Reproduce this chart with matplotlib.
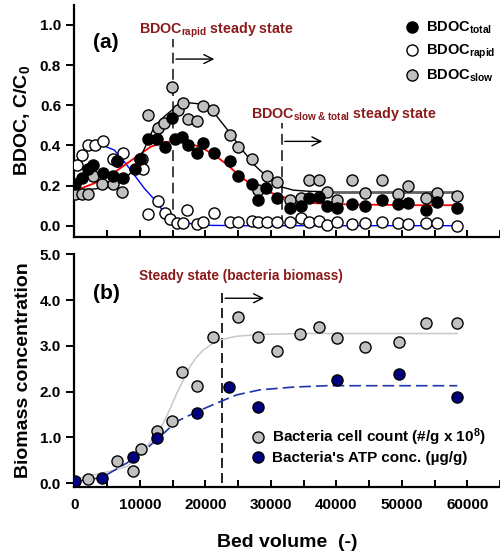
import matplotlib
matplotlib.use("Agg")
import matplotlib.pyplot as plt
from matplotlib.lines import Line2D
from matplotlib.mathtext import MathTextParser
from matplotlib.font_manager import FontProperties

plt.rcParams["font.family"] = ["Liberation Sans", "DejaVu Sans"]
plt.rcParams["font.weight"] = "bold"
plt.rcParams["mathtext.fontset"] = "custom"
plt.rcParams["mathtext.rm"] = "Liberation Sans:bold"
plt.rcParams["mathtext.bf"] = "Liberation Sans:bold"
plt.rcParams["mathtext.it"] = "Liberation Sans:bold"
plt.rcParams["mathtext.default"] = "rm"

# ---- (a) BDOC data ------------------------------------------------------ #
bv_total = [100, 1120, 2140, 2900, 4330, 5850, 6460, 7380, 9260, 10020,
            11300, 12670, 13840, 14860, 15370, 16390, 17410, 18680, 19600,
            21330, 23770, 25040, 27080, 28100, 29270, 31000, 32930, 34560,
            35880, 37410, 38530, 40060, 42350, 44380, 46930, 49470, 51000,
            53700, 55430, 58480]
bdoc_total = [0.21, 0.24, 0.28, 0.30, 0.26, 0.25, 0.32, 0.24, 0.28, 0.33,
              0.43, 0.43, 0.39, 0.535, 0.43, 0.44, 0.40, 0.36, 0.41,
              0.36, 0.32, 0.25, 0.21, 0.13, 0.19, 0.14, 0.09, 0.10,
              0.14, 0.145, 0.10, 0.09, 0.11, 0.10, 0.13, 0.11, 0.115,
              0.08, 0.12, 0.09]

bv_slow = [100, 1120, 2140, 2900, 4180, 5860, 7230, 10290, 11300, 12830,
           13740, 14870, 15880, 16550, 17400, 18690, 19600, 21220, 23770,
           25040, 27080, 28100, 29470, 31000, 32930, 34560, 35880, 37410,
           38530, 40160, 42350, 44380, 46930, 49470, 51000, 53700, 55430,
           58480]
bdoc_slow = [0.16, 0.16, 0.16, 0.25, 0.21, 0.21, 0.17, 0.33, 0.55, 0.485,
             0.51, 0.69, 0.575, 0.61, 0.53, 0.52, 0.596, 0.577, 0.45,
             0.39, 0.33, 0.18, 0.25, 0.22, 0.13, 0.14, 0.23, 0.23,
             0.17, 0.13, 0.23, 0.165, 0.23, 0.16, 0.20, 0.14, 0.165,
             0.15]

bv_rapid = [370, 1130, 2140, 3160, 4330, 5960, 6460, 7390, 10030, 10440,
            11300, 12830, 13850, 14610, 15730, 16640, 17250, 18690, 19600,
            21330, 23770, 25040, 27080, 28100, 29470, 31000, 32930, 34560,
            35880, 37410, 38530, 40060, 42350, 44380, 46930, 49470, 51000,
            53700, 55430, 58480]
bdoc_rapid = [0.30, 0.35, 0.40, 0.40, 0.42, 0.33, 0.32, 0.36, 0.33, 0.28,
              0.058, 0.125, 0.062, 0.032, 0.012, 0.015, 0.08, 0.008, 0.02,
              0.062, 0.02, 0.02, 0.023, 0.017, 0.02, 0.02, 0.02, 0.04,
              0.017, 0.025, 0.003, 0.02, 0.01, 0.015, 0.02, 0.015, 0.01,
              0.015, 0.015, 0.0]

# fitted curves
fit_rapid_x = [370, 1530, 3050, 4580, 6100, 7630, 9160, 10690, 12220,
               13400, 14610, 16640, 19700, 25000, 40000, 58480]
fit_rapid_y = [0.32, 0.377, 0.397, 0.397, 0.377, 0.319, 0.253, 0.186,
               0.131, 0.08, 0.045, 0.015, 0.002, 0.0, 0.0, 0.0]

fit_total_x = [370, 3050, 6100, 9160, 11700, 13740, 15270, 17300, 19340,
               21380, 23410, 25450, 27490, 29520, 31660, 34200, 36750,
               41830, 52000, 58480]
fit_total_y = [0.178, 0.211, 0.265, 0.336, 0.394, 0.415, 0.422, 0.413,
               0.39, 0.353, 0.302, 0.241, 0.198, 0.17, 0.145, 0.123,
               0.112, 0.106, 0.102, 0.102]

fit_slow_x = [100, 3050, 6100, 8000, 9500, 10800, 12200, 13700, 15250,
              17300, 19300, 21400, 23400, 25450, 27500, 29500, 31410,
              33440, 35990, 38000]
fit_slow_y = [0.178, 0.183, 0.194, 0.24, 0.30, 0.39, 0.493, 0.543, 0.585,
              0.613, 0.606, 0.56, 0.477, 0.386, 0.302, 0.241, 0.195,
              0.177, 0.171, 0.17]
fit_slow_flat_x = [38000, 58480]
fit_slow_flat_y = [0.17, 0.17]

# ---- (b) biomass data --------------------------------------------------- #
bv_cells = [2140, 6470, 8910, 10130, 12680, 14870, 16500, 18690, 21230,
            25040, 28000, 30900, 34460, 37410, 40160, 44390, 49630, 53700,
            58480]
cells = [0.09, 0.49, 0.26, 0.75, 1.15, 1.36, 2.44, 2.13, 3.20, 3.62, 3.20,
         2.89, 3.26, 3.41, 3.18, 2.98, 3.09, 3.49, 3.49]

bv_atp = [100, 4280, 8910, 12680, 18690, 23620, 28000, 40160, 49630, 58480]
atp = [0.05, 0.12, 0.57, 0.99, 1.53, 2.11, 1.67, 2.25, 2.39, 1.89]

fit_cells_x = [0, 2900, 6000, 8000, 9500, 11050, 12300, 13590, 14600,
               15640, 16700, 17670, 18700, 19700, 21000, 22250, 24800,
               28360, 35000, 58480]
fit_cells_y = [0.09, 0.18, 0.28, 0.36, 0.55, 0.80, 1.03, 1.31, 1.62, 1.96,
               2.27, 2.55, 2.76, 2.91, 3.04, 3.13, 3.21, 3.25, 3.27, 3.27]

fit_atp_x = [100, 4280, 8000, 11050, 13090, 15640, 18690, 21740, 24800,
             28360, 33440, 38540, 48710, 58480]
fit_atp_y = [0.03, 0.13, 0.44, 0.76, 1.02, 1.35, 1.56, 1.75, 1.93, 2.04,
             2.10, 2.13, 2.13, 2.13]

DARK_RED = "#8b1a1a"
GREY = "#c0c0c0"
NAVY = "#000080"


def first_parsable(candidates):
    # mathtext support for '&' varies; use the first form that parses
    parser = MathTextParser("agg")
    prop = FontProperties(size=11, weight="bold")
    for c in candidates:
        try:
            parser.parse(c, dpi=100, prop=prop)
            return c
        except Exception:
            continue
    return candidates[-1]


def style_axes(ax, ylim, yticks):
    ax.set_xlim(0, 65000)
    ax.set_ylim(*ylim)
    ax.set_yticks(yticks)
    ax.set_yticklabels([f"{v:.1f}" for v in yticks])
    ax.spines["top"].set_visible(False)
    ax.spines["right"].set_visible(False)
    for s in ("left", "bottom"):
        ax.spines[s].set_linewidth(1.6)
    ax.tick_params(axis="y", direction="out", length=6, width=1.4,
                   labelsize=11)
    ax.tick_params(axis="x", which="both", direction="in", length=5,
                   width=1.4, labelsize=11)


fig = plt.figure(figsize=(5.0, 5.54), dpi=100)
ax1 = fig.add_axes([0.1486, 0.5727, 0.8514, 0.4185])
ax2 = fig.add_axes([0.1486, 0.1215, 0.8514, 0.4195])

# ---- panel (a) ---------------------------------------------------------- #
style_axes(ax1, (-0.055, 1.10), [0.0, 0.2, 0.4, 0.6, 0.8, 1.0])
ax1.set_xticks(range(0, 65001, 5000))
ax1.set_xticklabels([])

ax1.plot(fit_rapid_x, fit_rapid_y, color="#0000ff", lw=1.0, zorder=2)
ax1.plot(fit_total_x, fit_total_y, color="#ff0000", lw=1.3, zorder=2)
ax1.plot(fit_slow_x, fit_slow_y, color="black", lw=1.0, zorder=2)
ax1.plot(fit_slow_flat_x, fit_slow_flat_y, color="#606060", lw=2.0, zorder=2)

mk = dict(linestyle="none", marker="o", markersize=8, markeredgecolor="black",
          markeredgewidth=1.0, zorder=3)
ax1.plot(bv_slow, bdoc_slow, markerfacecolor=GREY, **mk)
ax1.plot(bv_rapid, bdoc_rapid, markerfacecolor="white", **mk)
ax1.plot(bv_total, bdoc_total, markerfacecolor="black", **mk)

ax1.plot([15100, 15100], [0, 0.93], color="#333333", lw=1.3,
         dashes=(6, 3), zorder=1)
ax1.plot([31700, 31700], [0, 0.51], color="#333333", lw=1.3,
         dashes=(6, 3), zorder=1)
ax1.annotate("", xy=(21800, 0.83), xytext=(15100, 0.83),
             arrowprops=dict(arrowstyle="->", lw=1.0, color="black",
                             mutation_scale=16))
ax1.annotate("", xy=(38300, 0.42), xytext=(31700, 0.42),
             arrowprops=dict(arrowstyle="->", lw=1.0, color="black",
                             mutation_scale=16))

slow_total = first_parsable([r"BDOC$_{slow\;&\;total}$ steady state",
                             r"BDOC$_{slow\;\mathrm{&}\;total}$ steady state",
                             r"BDOC$_{slow}$$_{\;}$$_{total}$ steady state"])
ax1.text(9900, 0.975, r"BDOC$_{rapid}$ steady state",
         color=DARK_RED, fontsize=10.3, fontweight="bold", va="center")
ax1.text(27000, 0.555, slow_total,
         color=DARK_RED, fontsize=10.3, fontweight="bold", va="center")
ax1.text(2900, 0.915, "(a)", fontsize=15, fontweight="bold", va="center")
ax1.set_ylabel(r"BDOC, C/C$_{0}$", fontsize=14, fontweight="bold",
               labelpad=6)

handles1 = [
    Line2D([], [], markerfacecolor="black", **mk),
    Line2D([], [], markerfacecolor="white", **mk),
    Line2D([], [], markerfacecolor=GREY, **mk),
]
labels1 = [r"BDOC$_{total}$", r"BDOC$_{rapid}$", r"BDOC$_{slow}$"]
ax1.legend(handles1, labels1, loc="upper left",
           bbox_to_anchor=(0.775, 0.935), frameon=False,
           borderpad=0, borderaxespad=0, handlelength=1.0,
           handletextpad=0.5, labelspacing=0.45,
           prop=dict(size=10.5, weight="bold"))

# ---- panel (b) ---------------------------------------------------------- #
style_axes(ax2, (-0.075, 5.0), [0.0, 1.0, 2.0, 3.0, 4.0, 5.0])
ax2.set_xticks(range(0, 60001, 10000))
ax2.set_xticks(range(5000, 65001, 10000), minor=True)
ax2.tick_params(axis="x", pad=8)

ax2.plot(fit_cells_x, fit_cells_y, color="#c8c8c8", lw=1.1, zorder=2)
ax2.plot(fit_atp_x, fit_atp_y, color="#1f35a8", lw=1.2, dashes=(7, 3),
         zorder=2)
ax2.plot(bv_cells, cells, markerfacecolor=GREY, **mk)
ax2.plot(bv_atp, atp, markerfacecolor=NAVY, **mk)

ax2.plot([22600, 22600], [0, 4.26], color="black", lw=1.2, dashes=(6, 3),
         zorder=1)
ax2.annotate("", xy=(29400, 4.04), xytext=(22600, 4.04),
             arrowprops=dict(arrowstyle="->", lw=1.0, color="black",
                             mutation_scale=16))
ax2.text(9900, 4.53, "Steady state (bacteria biomass)", color=DARK_RED,
         fontsize=9.8, fontweight="bold", va="center")
ax2.text(2900, 4.15, "(b)", fontsize=15, fontweight="bold", va="center")

ax2.set_ylabel("Biomass concentration", fontsize=14, fontweight="bold",
               labelpad=6)
ax2.set_xlabel("Bed volume  (-)", fontsize=14, fontweight="bold",
               labelpad=16)

handles2 = [
    Line2D([], [], markerfacecolor=GREY, **mk),
    Line2D([], [], markerfacecolor=NAVY, **mk),
]
labels2 = [r"Bacteria cell count (#/g x 10$^{8}$)",
           "Bacteria's ATP conc. (\u00b5g/g)"]
ax2.legend(handles2, labels2, loc="upper left", bbox_to_anchor=(0.413, 0.26),
           frameon=False, borderpad=0, borderaxespad=0, handlelength=1.0,
           handletextpad=0.45, labelspacing=0.2,
           prop=dict(size=11, weight="bold"))

fig.savefig("out.png", dpi=100)
